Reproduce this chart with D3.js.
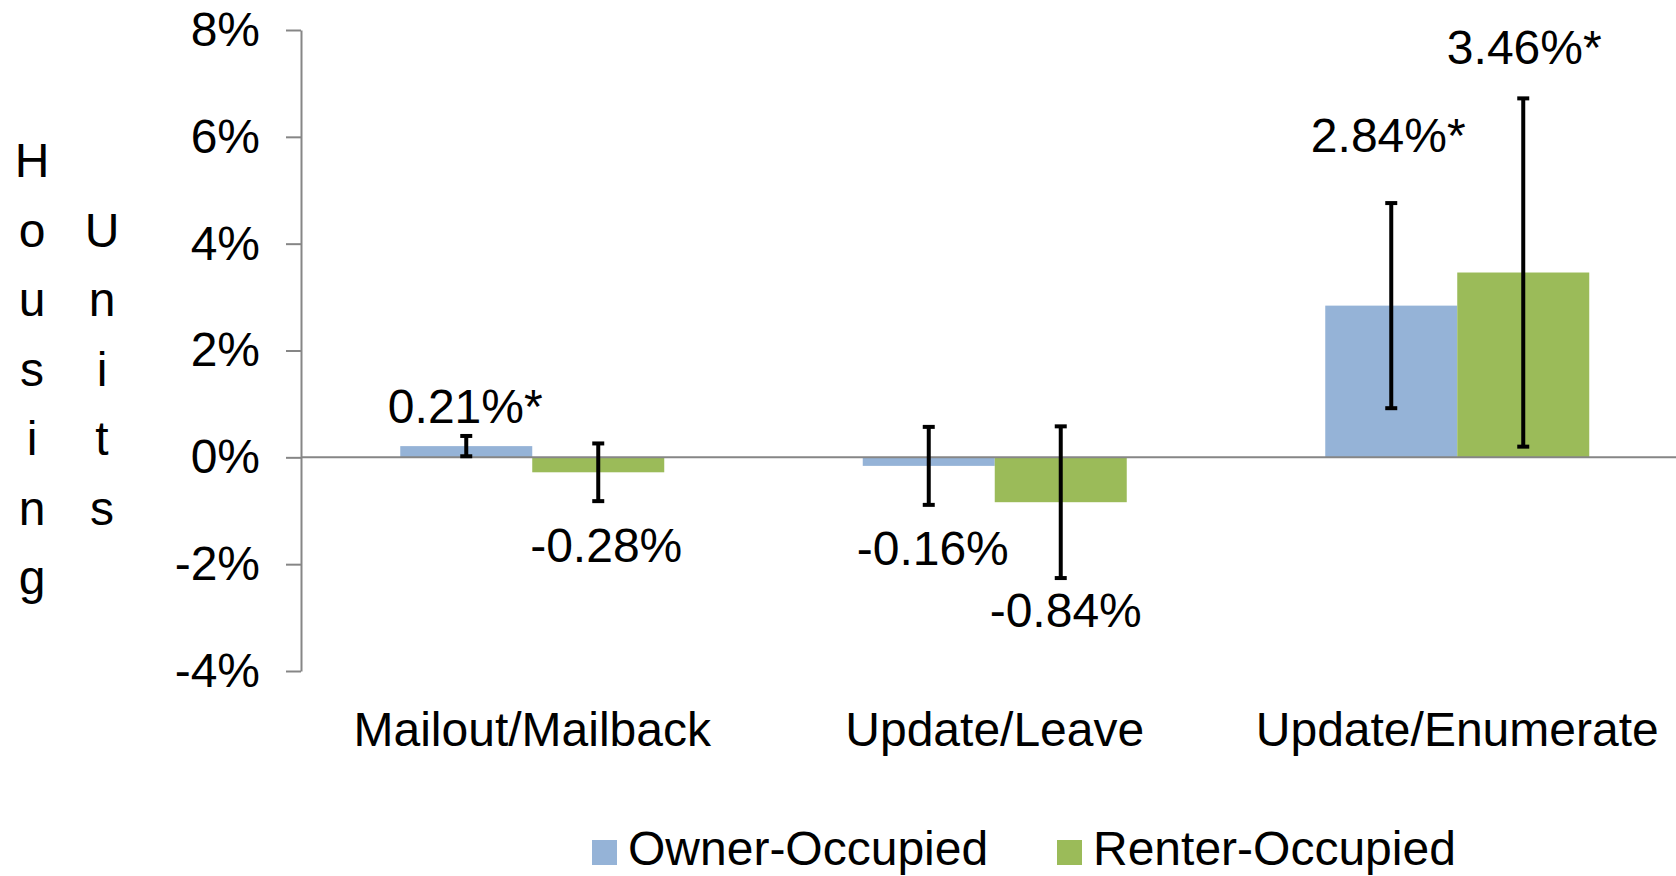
<!DOCTYPE html>
<html>
<head>
<meta charset="utf-8">
<script src="https://cdn.jsdelivr.net/npm/d3@7"></script>
<style>
  html, body { margin: 0; padding: 0; background: #fff; }
  svg { display: block; font-family: "Liberation Sans", Arial, sans-serif; }
</style>
</head>
<body>
<div id="chart"></div>
<script>
// data
const categories = ["Mailout/Mailback", "Update/Leave", "Update/Enumerate"];
const seriesNames = ["Owner-Occupied", "Renter-Occupied"];
const ownerValues = [0.21, -0.16, 2.84];
const renterValues = [-0.28, -0.84, 3.46];
const ownerMargins = [0.19, 0.73, 1.92];
const renterMargins = [0.54, 1.42, 3.26];
const ownerLabels = ["0.21%*", "-0.16%", "2.84%*"];
const renterLabels = ["-0.28%", "-0.84%", "3.46%*"];
const yTicks = [-4, -2, 0, 2, 4, 6, 8];
const yTitle = "Housing Units";

const colors = ["#95b3d7", "#9bbb59"];
const w = 1676, h = 876;
const fontSize = 48;

const series = [
  { name: seriesNames[0], values: ownerValues, margins: ownerMargins, labels: ownerLabels },
  { name: seriesNames[1], values: renterValues, margins: renterMargins, labels: renterLabels }
];

// label placement (baseline in px, small x nudge) - hand placed like the original
const labelPos = [
  [{ dx: -1, y: 423 }, { dx: 8, y: 562 }],
  [{ dx: 4, y: 565 }, { dx: 5, y: 627 }],
  [{ dx: -3, y: 152 }, { dx: 1, y: 64 }]
];

const svg = d3.select("#chart").append("svg")
  .attr("width", w)
  .attr("height", h);

// scales
const x0 = d3.scaleBand()
  .domain(categories)
  .range([301, 301 + 3 * 462.5])
  .paddingInner(0.4292)
  .paddingOuter(0.2146);

const x1 = d3.scaleBand()
  .domain(seriesNames)
  .range([0, x0.bandwidth()]);

const y = d3.scaleLinear()
  .domain([-4, 8])
  .range([671, 30]);

// y axis
const yAxis = d3.axisLeft(y)
  .tickValues(yTicks)
  .tickSize(15)
  .tickSizeOuter(0)
  .tickPadding(26)
  .tickFormat(d => d + "%");

const gy = svg.append("g")
  .attr("transform", "translate(301,0)")
  .call(yAxis);
gy.select(".domain").attr("stroke", "#868686").attr("stroke-width", 2);
gy.selectAll(".tick line").attr("stroke", "#868686").attr("stroke-width", 2);
gy.selectAll(".tick text")
  .attr("font-size", fontSize)
  .attr("font-family", "Liberation Sans, Arial, sans-serif")
  .attr("fill", "#000");

// y title, stacked characters in two columns
const chars = yTitle.split("");
const colLen = 7;
svg.append("g").selectAll("text")
  .data(chars)
  .enter()
  .append("text")
  .attr("x", (d, i) => i < colLen ? 32 : 102)
  .attr("y", (d, i) => 177 + (i % colLen) * 69.5)
  .attr("text-anchor", "middle")
  .attr("font-size", fontSize)
  .attr("fill", "#000")
  .text(d => d);

// bars
const groups = svg.append("g").selectAll("g")
  .data(categories)
  .enter()
  .append("g")
  .attr("transform", d => "translate(" + x0(d) + ",0)");

groups.selectAll("rect")
  .data((d, i) => series.map(s => ({ name: s.name, v: s.values[i] })))
  .enter()
  .append("rect")
  .attr("x", d => x1(d.name))
  .attr("y", d => y(Math.max(0, d.v)))
  .attr("width", x1.bandwidth())
  .attr("height", d => Math.abs(y(d.v) - y(0)))
  .attr("fill", (d, i) => colors[i]);

// zero line
svg.append("line")
  .attr("x1", 301)
  .attr("x2", w)
  .attr("y1", y(0))
  .attr("y2", y(0))
  .attr("stroke", "#868686")
  .attr("stroke-width", 2);

// error bars
const errData = [];
categories.forEach((c, i) => {
  series.forEach((s, j) => {
    errData.push({
      cx: x0(c) + x1(s.name) + x1.bandwidth() / 2,
      hi: s.values[i] + s.margins[i],
      lo: s.values[i] - s.margins[i]
    });
  });
});

const err = svg.append("g")
  .attr("stroke", "#000")
  .attr("stroke-width", 4)
  .selectAll("g")
  .data(errData)
  .enter()
  .append("g");

err.append("line")
  .attr("x1", d => d.cx).attr("x2", d => d.cx)
  .attr("y1", d => y(d.hi)).attr("y2", d => y(d.lo));
err.append("line")
  .attr("x1", d => d.cx - 6).attr("x2", d => d.cx + 6)
  .attr("y1", d => y(d.hi)).attr("y2", d => y(d.hi));
err.append("line")
  .attr("x1", d => d.cx - 6).attr("x2", d => d.cx + 6)
  .attr("y1", d => y(d.lo)).attr("y2", d => y(d.lo));

// data labels
categories.forEach((c, i) => {
  series.forEach((s, j) => {
    svg.append("text")
      .attr("x", x0(c) + x1(s.name) + x1.bandwidth() / 2 + labelPos[i][j].dx)
      .attr("y", labelPos[i][j].y)
      .attr("text-anchor", "middle")
      .attr("font-size", fontSize)
      .attr("fill", "#000")
      .text(s.labels[i]);
  });
});

// category labels
svg.append("g").selectAll("text")
  .data(categories)
  .enter()
  .append("text")
  .attr("x", d => x0(d) + x0.bandwidth() / 2)
  .attr("y", 746)
  .attr("text-anchor", "middle")
  .attr("font-size", fontSize)
  .attr("fill", "#000")
  .text(d => d);

// legend
const legendX = [592, 1057];
const legend = svg.append("g").selectAll("g")
  .data(seriesNames)
  .enter()
  .append("g")
  .attr("transform", (d, i) => "translate(" + legendX[i] + ",840)");

legend.append("rect")
  .attr("width", 25)
  .attr("height", 25)
  .attr("fill", (d, i) => colors[i]);

legend.append("text")
  .attr("x", 36)
  .attr("y", 25)
  .attr("font-size", fontSize)
  .attr("fill", "#000")
  .text(d => d);
</script>
</body>
</html>
